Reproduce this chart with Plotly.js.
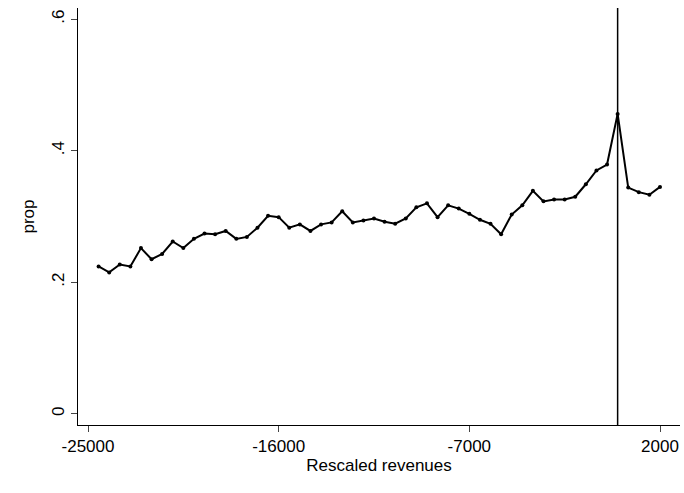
<!DOCTYPE html>
<html>
<head>
<script src="https://cdn.plot.ly/plotly-3.0.1.min.js"></script>
<style>body{margin:0;background:#fff}</style>
</head>
<body>
<div id="chart" style="width:684px;height:493px"></div>
<script>
// rescaled revenues, bins of 500 from -24500 to 2000
var revenues = []
for (var r = -24500; r <= 2000; r += 500) revenues.push(r)

var prop = [0.224, 0.215, 0.227, 0.224, 0.252, 0.235, 0.243, 0.262, 0.252, 0.266,
  0.274, 0.273, 0.278, 0.266, 0.269, 0.283, 0.301, 0.299, 0.283, 0.288,
  0.278, 0.288, 0.291, 0.308, 0.291, 0.294, 0.297, 0.292, 0.289, 0.297,
  0.314, 0.320, 0.299, 0.317, 0.312, 0.304, 0.295, 0.289, 0.273, 0.303,
  0.317, 0.339, 0.323, 0.326, 0.326, 0.330, 0.349, 0.370, 0.379, 0.456,
  0.344, 0.337, 0.333, 0.345]

var xticks = [-25000, -16000, -7000, 2000]
var xticktext = ['-25000', '-16000', '-7000', '2000']
var yticks = [0, 0.2, 0.4, 0.6]
var yticktext = ['0', '.2', '.4', '.6']

var data = [{
  type: 'scatter',
  mode: 'lines+markers',
  x: revenues,
  y: prop,
  line: {color: 'black', width: 2},
  marker: {color: 'black', size: 4}
}]

var layout = {
  width: 684, height: 493,
  margin: {l: 78, r: 4, t: 8, b: 68},
  showlegend: false,
  font: {family: 'Liberation Sans, Arial', color: 'black', size: 17},
  plot_bgcolor: 'white', paper_bgcolor: 'white',
  xaxis: {
    range: [-25472, 2944],
    tickvals: xticks, ticktext: xticktext,
    ticks: 'outside', ticklen: 6,
    showgrid: false, zeroline: false,
    showline: true, linecolor: 'black',
    title: {text: 'Rescaled revenues', standoff: 2, font: {size: 17}}
  },
  yaxis: {
    range: [-0.017, 0.617],
    tickvals: yticks, ticktext: yticktext, tickangle: -90,
    ticks: 'outside', ticklen: 6,
    showgrid: false, zeroline: false,
    showline: true, linecolor: 'black',
    title: {text: 'prop', standoff: 10, font: {size: 17}}
  },
  shapes: [{
    type: 'line', xref: 'x', yref: 'paper',
    x0: 0, x1: 0, y0: 0, y1: 1,
    line: {color: 'black', width: 1.5}
  }]
}

Plotly.newPlot('chart', data, layout, {displayModeBar: false})
</script>
</body>
</html>
